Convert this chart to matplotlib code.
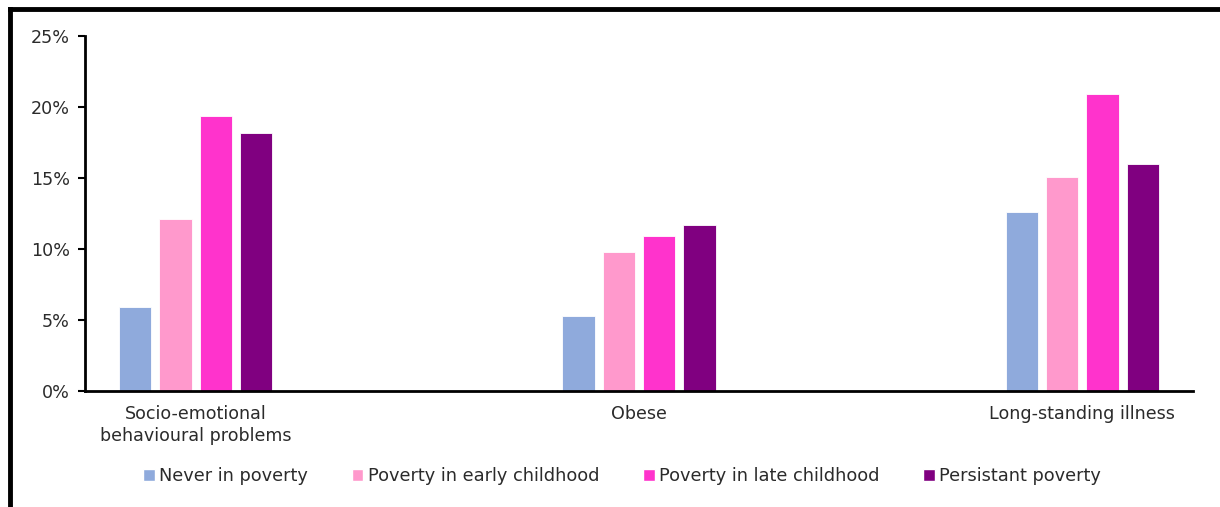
import numpy as np
import matplotlib
matplotlib.use("Agg")
import matplotlib.pyplot as plt
from matplotlib.lines import Line2D
from matplotlib.patches import Patch

# ── Data ─────────────────────────────────────────────────────
categories = ["Socio-emotional\nbehavioural problems", "Obese", "Long-standing illness"]
series = ["Never in poverty", "Poverty in early childhood",
          "Poverty in late childhood", "Persistant poverty"]
never_poverty = [5.9, 5.3, 12.6]
early_poverty = [12.1, 9.8, 15.1]
late_poverty = [19.4, 10.9, 20.9]
persistent_poverty = [18.2, 11.7, 16.0]
yticks = [0, 5, 10, 15, 20, 25]

values = [never_poverty, early_poverty, late_poverty, persistent_poverty]
colors = ["#8FAADC", "#FF99CC", "#FF33CC", "#800080"]
text_col = "#2b2b2b"
fs = 12.6

plt.rcParams["font.family"] = ["DejaVu Sans"]

fig = plt.figure(figsize=(12.2, 5.07), dpi=100)
ax = fig.add_axes([85 / 1220, 1 - 391 / 507, (1193 - 85) / 1220, (391 - 36) / 507])

x = np.arange(len(categories))
step = 0.091
width = 0.073
for i, (vals, col, name) in enumerate(zip(values, colors, series)):
    ax.bar(x + (i - 1.5) * step, vals, width=width, color=col,
           edgecolor="white", linewidth=0.6, label=name, zorder=2)

ax.set_xlim(-0.25, 2.25)
ax.set_ylim(0, 25)
ax.set_yticks(yticks)
ax.set_yticklabels([f"{v}%" for v in yticks], fontsize=fs, color=text_col)
ax.set_xticks(x)
ax.set_xticklabels(categories, fontsize=fs, color=text_col, linespacing=1.3)
ax.tick_params(axis="x", length=0, pad=10)
ax.tick_params(axis="y", length=5, width=1.5, direction="out", pad=6)

for s in ["top", "right"]:
    ax.spines[s].set_visible(False)
for s in ["left", "bottom"]:
    ax.spines[s].set_linewidth(2)
    ax.spines[s].set_color("black")

handles = [Patch(facecolor=c, edgecolor="white") for c in colors]
fig.legend(handles, series, loc="center", bbox_to_anchor=(0.51, 1 - 476 / 507),
           ncol=4, frameon=False, fontsize=12.8, handlelength=0.65, handleheight=0.65,
           handletextpad=0.25, columnspacing=2.45, labelcolor=text_col)

# frame lines (top and left edges of the chart box)
fig.add_artist(Line2D([9.5 / 1220, 1], [1 - 9 / 507, 1 - 9 / 507],
                      transform=fig.transFigure, color="black", linewidth=3.5))
fig.add_artist(Line2D([9.5 / 1220, 9.5 / 1220], [0, 1 - 9 / 507],
                      transform=fig.transFigure, color="black", linewidth=3.5))

fig.savefig("out.png", dpi=100, facecolor="white")
